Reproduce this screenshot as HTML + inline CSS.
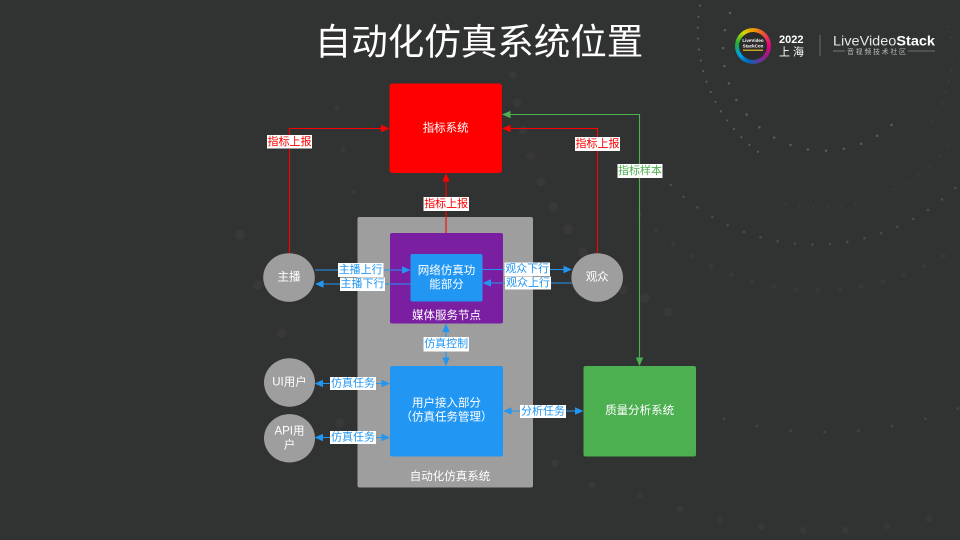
<!DOCTYPE html>
<html><head><meta charset="utf-8">
<style>
html,body{margin:0;padding:0;background:#313232;}
#c{position:relative;width:960px;height:540px;overflow:hidden;background:#313232;font-family:"Liberation Sans","Noto Sans CJK SC",sans-serif;}
svg{position:absolute;left:0;top:0;}
.ring{position:absolute;left:735px;top:28px;width:36px;height:36px;border-radius:50%;background:conic-gradient(#f39800,#e4007f 25%,#7d2a8e 40%,#0068b7 55%,#00a0e9 65%,#22ac38 78%,#cfdb00 90%,#f39800);}
.ringin{position:absolute;left:739px;top:32px;width:28px;height:28px;border-radius:50%;background:#2b2b2b;}
</style></head><body><div id="c">
<svg width="960" height="540" viewBox="0 0 960 540" font-family="'Liberation Sans','Noto Sans CJK SC',sans-serif">
<!-- background decorative dots -->
<g fill="none" stroke-linecap="round">
  <path d="M702,-5 A152,152 0 0 0 761,154" stroke="#625a5a" stroke-width="2.2" stroke-dasharray="0 11"/>
  <path d="M730,13 A101,101 0 0 0 902,114" stroke="#625a5a" stroke-width="2.5" stroke-dasharray="0 18"/>
  <path d="M946,16 A120,120 0 0 1 931,122" stroke="#474343" stroke-width="1.6" stroke-dasharray="0 11"/>
  <path d="M772,200 A167,167 0 0 0 949,146" stroke="#454141" stroke-width="1.6" stroke-dasharray="0 14"/>
  <path d="M659,172 A203,203 0 0 0 970,172" stroke="#4f4949" stroke-width="2.6" stroke-dasharray="0 17.5"/>
  <path d="M640,215 A247,247 0 0 0 1000,210" stroke="#393838" stroke-width="5" stroke-dasharray="0 22"/>
  <path d="M660,395 A385,385 0 0 0 1000,390" stroke="#454141" stroke-width="3" stroke-dasharray="0 34"/>
  <path d="M640,495 A478,478 0 0 0 990,500" stroke="#383838" stroke-width="7" stroke-dasharray="0 42"/>
</g>
<g fill="#383838">
  <circle cx="513" cy="75" r="4"/><circle cx="517" cy="103" r="4.5"/><circle cx="523" cy="130" r="4.5"/>
  <circle cx="531" cy="156" r="4.5"/><circle cx="541" cy="182" r="4.5"/><circle cx="553" cy="207" r="5"/>
  <circle cx="568" cy="229" r="5"/><circle cx="583" cy="252" r="5"/><circle cx="623" cy="290" r="5"/>
  <circle cx="337" cy="108" r="2.5"/><circle cx="343" cy="150" r="2.5"/><circle cx="353" cy="192" r="2.5"/>
  <circle cx="240" cy="235" r="5"/><circle cx="258" cy="285" r="5"/><circle cx="282" cy="333" r="5"/>
  <circle cx="340" cy="423" r="5"/><circle cx="555" cy="463" r="4"/><circle cx="592" cy="485" r="4"/>
  <circle cx="645" cy="298" r="5"/><circle cx="668" cy="312" r="5"/>
</g>

<!-- title -->
<text x="479" y="42" font-size="36.5" fill="#ffffff" text-anchor="middle" dominant-baseline="central">自动化仿真系统位置</text>

<!-- logo texts -->
<text x="779" y="43" font-size="11" font-weight="bold" fill="#ffffff">2022</text>
<text x="779" y="55.5" font-size="11" fill="#ffffff" letter-spacing="3">上海</text>
<line x1="820" y1="35" x2="820" y2="56" stroke="#6a6a6a" stroke-width="1"/>
<text x="833" y="45.5" font-size="14" fill="#e6e6e6" textLength="102" lengthAdjust="spacingAndGlyphs">LiveVideo<tspan font-weight="bold" fill="#ffffff">Stack</tspan></text>
<line x1="833" y1="51" x2="845" y2="51" stroke="#aaaaaa" stroke-width="0.6"/>
<line x1="908" y1="51" x2="935" y2="51" stroke="#aaaaaa" stroke-width="0.6"/>
<text x="847" y="54" font-size="7" fill="#bbbbbb" textLength="59" lengthAdjust="spacing">音视频技术社区</text>

<!-- container -->
<rect x="357.5" y="217" width="175.5" height="270.5" rx="2" fill="#9e9e9e"/>
<text x="450" y="477" font-size="11.5" fill="#ffffff" text-anchor="middle" dominant-baseline="central">自动化仿真系统</text>

<!-- red metrics box -->
<rect x="389.5" y="83.5" width="112.5" height="89.5" rx="3" fill="#ff0000"/>
<text x="445.7" y="128.5" font-size="11.5" fill="#ffffff" text-anchor="middle" dominant-baseline="central">指标系统</text>

<!-- purple media node -->
<rect x="390" y="233" width="113" height="90.5" rx="2" fill="#7b1fa2"/>
<rect x="410.5" y="254" width="72" height="47.5" rx="2" fill="#2196f3"/>
<text x="446.5" y="271" font-size="11.5" fill="#ffffff" text-anchor="middle" dominant-baseline="central">网络仿真功</text>
<text x="446.5" y="285" font-size="11.5" fill="#ffffff" text-anchor="middle" dominant-baseline="central">能部分</text>
<text x="446.5" y="316" font-size="11.5" fill="#ffffff" text-anchor="middle" dominant-baseline="central">媒体服务节点</text>

<!-- user access -->
<rect x="390" y="366" width="113" height="90.5" rx="2" fill="#2196f3"/>
<text x="446.5" y="403.5" font-size="11.5" fill="#ffffff" text-anchor="middle" dominant-baseline="central">用户接入部分</text>
<text x="446.5" y="417.5" font-size="11.5" fill="#ffffff" text-anchor="middle" dominant-baseline="central">（仿真任务管理）</text>

<!-- quality analysis -->
<rect x="583.5" y="366" width="112.5" height="90.5" rx="2" fill="#4caf50"/>
<text x="639.7" y="411" font-size="11.5" fill="#ffffff" text-anchor="middle" dominant-baseline="central">质量分析系统</text>

<!-- circles -->
<g fill="#9e9e9e">
  <ellipse cx="289" cy="277.5" rx="25.8" ry="24.3"/>
  <ellipse cx="597.2" cy="277.5" rx="25.8" ry="24.3"/>
  <ellipse cx="289.5" cy="382.5" rx="25.5" ry="24.2"/>
  <ellipse cx="289.5" cy="438.3" rx="25.5" ry="24.2"/>
</g>
<g font-size="11.5" fill="#ffffff" text-anchor="middle" dominant-baseline="central">
  <text x="289" y="277.5">主播</text>
  <text x="597.2" y="277.5">观众</text>
  <text x="289.5" y="382.5">UI用户</text>
  <text x="289.5" y="431.5">API用</text>
  <text x="289.5" y="445.5">户</text>
</g>

<!-- red connectors -->
<g fill="none" stroke="#ff0000" stroke-width="1.1">
  <polyline points="289.5,253 289.5,128.5 382,128.5"/>
  <polyline points="597.5,253 597.5,128.5 509,128.5"/>
  <polyline points="446,233 446,180"/>
</g>
<g fill="#ff0000">
  <polygon points="389.5,128.5 381,124.8 381,132.2"/>
  <polygon points="502,128.5 510.5,124.8 510.5,132.2"/>
  <polygon points="446,173 442.3,181.5 449.7,181.5"/>
</g>

<!-- green connector -->
<polyline points="509,114.5 639.5,114.5 639.5,358" fill="none" stroke="#4caf50" stroke-width="1.1"/>
<g fill="#4caf50">
  <polygon points="502,114.5 510.5,110.8 510.5,118.2"/>
  <polygon points="639.5,366 635.8,357.5 643.2,357.5"/>
</g>

<!-- blue connectors -->
<g fill="none" stroke="#2196f3" stroke-width="1.1">
  <line x1="315" y1="270" x2="403" y2="270"/>
  <line x1="410.5" y1="284" x2="322" y2="284"/>
  <line x1="482.5" y1="269.5" x2="565" y2="269.5"/>
  <line x1="572" y1="283" x2="490" y2="283"/>
  <line x1="446" y1="330" x2="446" y2="359"/>
  <line x1="322" y1="383.5" x2="383" y2="383.5"/>
  <line x1="322" y1="437.5" x2="383" y2="437.5"/>
  <line x1="510" y1="411" x2="576" y2="411"/>
</g>
<g fill="#2196f3">
  <polygon points="410.5,270 402,266.3 402,273.7"/>
  <polygon points="315,284 323.5,280.3 323.5,287.7"/>
  <polygon points="572,269.5 563.5,265.8 563.5,273.2"/>
  <polygon points="482.5,283 491,279.3 491,286.7"/>
  <polygon points="446,323.5 442.3,332 449.7,332"/>
  <polygon points="446,366 442.3,357.5 449.7,357.5"/>
  <polygon points="314.5,383.5 323,379.8 323,387.2"/>
  <polygon points="390,383.5 381.5,379.8 381.5,387.2"/>
  <polygon points="314.5,437.5 323,433.8 323,441.2"/>
  <polygon points="390,437.5 381.5,433.8 381.5,441.2"/>
  <polygon points="503,411 511.5,407.3 511.5,414.7"/>
  <polygon points="583.5,411 575,407.3 575,414.7"/>
</g>

<!-- labels -->
<g fill="#ffffff">
  <rect x="267" y="135" width="45" height="13.5"/>
  <rect x="575" y="137" width="45" height="14"/>
  <rect x="423.5" y="197" width="45.5" height="14"/>
  <rect x="617.5" y="164" width="45" height="14"/>
  <rect x="338" y="263" width="45.5" height="14"/>
  <rect x="340" y="277.5" width="45" height="13.5"/>
  <rect x="504.5" y="262.5" width="45.5" height="13.5"/>
  <rect x="505" y="276.5" width="46" height="13"/>
  <rect x="423.5" y="337" width="45.5" height="14.5"/>
  <rect x="330" y="377" width="46" height="13"/>
  <rect x="330" y="431" width="46" height="13"/>
  <rect x="520" y="405" width="46" height="13"/>
</g>
<g font-size="11" text-anchor="middle" dominant-baseline="central">
  <text x="289.5" y="141.8" fill="#ff0000">指标上报</text>
  <text x="597.5" y="144" fill="#ff0000">指标上报</text>
  <text x="446.2" y="204" fill="#ff0000">指标上报</text>
  <text x="640" y="171" fill="#4caf50">指标样本</text>
  <text x="360.7" y="270" fill="#2196f3">主播上行</text>
  <text x="362.5" y="284.2" fill="#2196f3">主播下行</text>
  <text x="527.2" y="269.2" fill="#2196f3">观众下行</text>
  <text x="528" y="283" fill="#2196f3">观众上行</text>
  <text x="446.2" y="344.2" fill="#2196f3">仿真控制</text>
  <text x="353" y="383.5" fill="#2196f3">仿真任务</text>
  <text x="353" y="437.5" fill="#2196f3">仿真任务</text>
  <text x="543" y="411.5" fill="#2196f3">分析任务</text>
</g>
</svg>
<div class="ring"></div>
<div class="ringin"></div>
<svg width="960" height="540" viewBox="0 0 960 540" font-family="'Liberation Sans',sans-serif" style="pointer-events:none">
  <text x="753" y="42" font-size="4.5" font-weight="bold" fill="#ffffff" text-anchor="middle">LiveVideo</text>
  <text x="753" y="47.5" font-size="4.5" font-weight="bold" fill="#ffffff" text-anchor="middle">StackCon</text>
  <rect x="743" y="49.5" width="20" height="1.5" fill="#c9a227"/>
</svg>
</div></body></html>
